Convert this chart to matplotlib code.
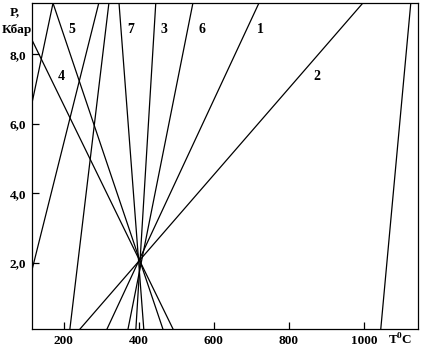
import matplotlib
matplotlib.use('Agg')
import matplotlib.pyplot as plt

# концы линий (T, P)
t_start = [243, 315, 371, 392, 413, 464, 491, 216, 115, 115, 1045]
p_start = [0.1, 0.1, 0.1, 0.1, 0.1, 0.1, 0.1, 0.1, 1.8, 6.6, 0.1]
t_end = [997, 720, 544, 445, 347, 171, 115, 320, 293, 171, 1125]
p_end = [9.47, 9.47, 9.47, 9.47, 9.47, 9.47, 8.41, 9.47, 9.47, 9.47, 9.47]

# номера линий и места подписей
line_names = ['1', '2', '3', '4', '5', '6', '7']
name_t = [723, 875, 467, 192, 221, 568, 378]
name_p = [8.7, 7.35, 8.7, 7.35, 8.7, 8.7, 8.7]

x_ticks = [200, 400, 600, 800, 1000]
y_ticks = [2, 4, 6, 8]
y_labels = ['2,0', '4,0', '6,0', '8,0']

plt.rcParams['font.family'] = ['Liberation Serif', 'DejaVu Serif']
plt.rcParams['font.weight'] = 'bold'

fig = plt.figure(figsize=(4.24, 3.5), dpi=100)
ax = fig.add_axes([0.0755, 0.06, 0.911, 0.931])

for i in range(len(t_start)):
    ax.plot([t_start[i], t_end[i]], [p_start[i], p_end[i]], color='black', lw=0.9)

for n, t, p in zip(line_names, name_t, name_p):
    ax.text(t, p, n, fontsize=10, fontweight='bold', ha='center', va='center')

ax.set_xlim(115, 1145)
ax.set_ylim(0.1, 9.47)
ax.set_xticks(x_ticks)
ax.set_yticks(y_ticks)
ax.set_yticklabels(y_labels)
ax.tick_params(direction='in', length=5, width=0.9, labelsize=9.5, pad=4)
for s in ax.spines.values():
    s.set_linewidth(0.9)

fig.text(0.035, 0.965, 'P,', fontsize=9.5, fontweight='bold', ha='center', va='center')
fig.text(0.04, 0.913, 'Кбар', fontsize=9.5, fontweight='bold', ha='center', va='center')
fig.text(0.945, 0.028, 'T$^{\\mathregular{0}}$C', fontsize=9.5, fontweight='bold', ha='center', va='center')

fig.savefig('out.png', dpi=100)
